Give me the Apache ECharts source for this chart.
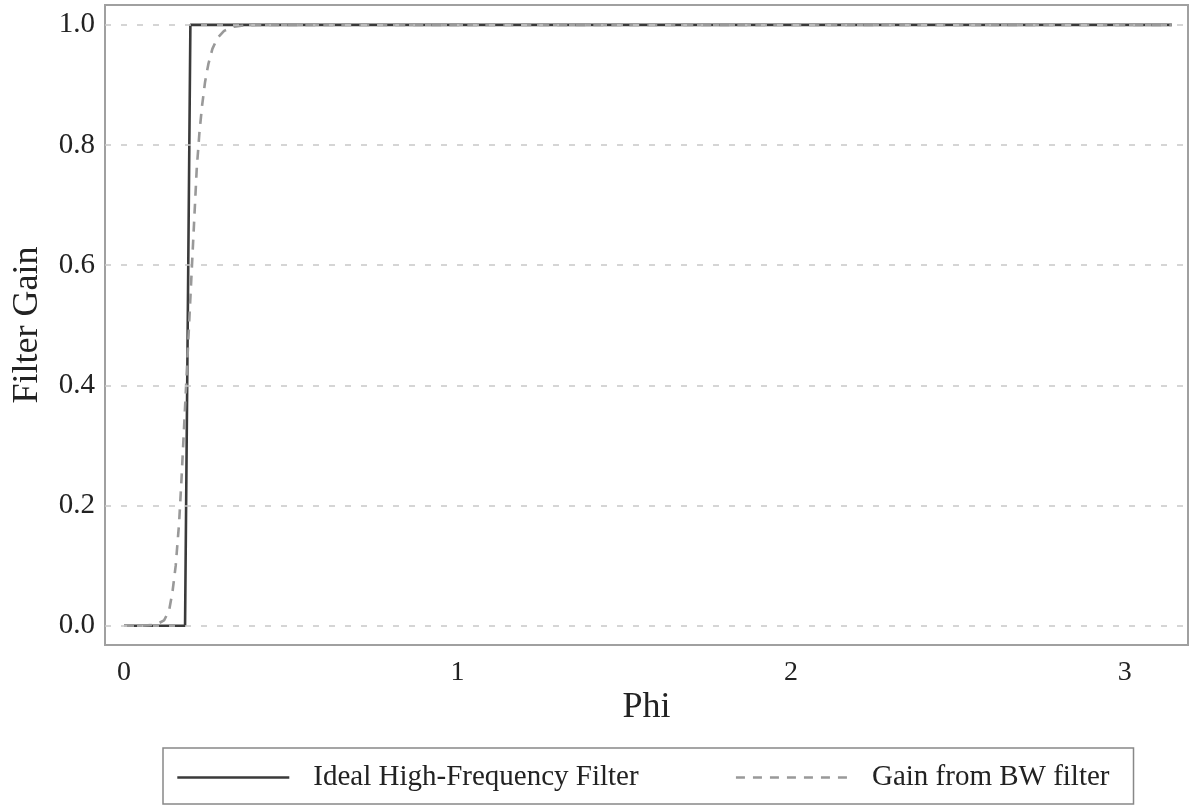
<!DOCTYPE html>
<html>
<head>
<meta charset="utf-8">
<script src="https://cdn.jsdelivr.net/npm/echarts@6/dist/echarts.min.js"></script>
<style>
html,body{margin:0;padding:0;background:#fff;}
#chart{width:1190px;height:805px;}
</style>
</head>
<body>
<div id="chart"></div>
<script>
// Ideal high-frequency filter (step)
const phiIdeal = [0, 0.183, 0.199, 3.1416];
const gainIdeal = [0, 0, 1, 1];

// Gain from BW filter
const phiBW = [0, 0.05, 0.08, 0.10, 0.12, 0.135, 0.145, 0.155, 0.165, 0.172, 0.180, 0.188, 0.195, 0.202, 0.210, 0.218, 0.226, 0.234, 0.243, 0.253, 0.265, 0.28, 0.30, 0.33, 0.36, 0.40, 0.6, 1.0, 1.5, 2.0, 2.5, 3.0, 3.1416];
const gainBW = [0, 0, 0.001, 0.003, 0.009, 0.025, 0.055, 0.10, 0.17, 0.24, 0.33, 0.42, 0.50, 0.58, 0.67, 0.76, 0.82, 0.865, 0.905, 0.935, 0.96, 0.978, 0.99, 0.997, 0.999, 1.0, 1.0, 1.0, 1.0, 1.0, 1.0, 1.0, 1.0];

const xTicks = [0, 1, 2, 3];
const yTicks = [0, 0.2, 0.4, 0.6, 0.8, 1.0];

const names = ['Ideal High-Frequency Filter', 'Gain from BW filter'];
const FONT = 'Liberation Serif';

const chart = echarts.init(document.getElementById('chart'), null, {renderer: 'canvas'});
chart.setOption({
  backgroundColor: '#fff',
  animation: false,
  textStyle: {fontFamily: FONT},
  grid: {left: 105, right: 2, top: 5, bottom: 160, containLabel: false, outerBoundsMode: 'none',
         show: true, borderColor: '#a0a0a0', borderWidth: 2, backgroundColor: 'transparent'},
  xAxis: {
    type: 'value', min: -0.057, max: 3.19,
    name: 'Phi', nameLocation: 'middle', nameGap: 45, nameMoveOverlap: false,
    nameTextStyle: {fontFamily: FONT, fontSize: 36, color: '#222'},
    axisLine: {show: false}, axisTick: {show: false}, splitLine: {show: false},
    axisLabel: {customValues: xTicks, fontFamily: FONT, fontSize: 28, color: '#222', margin: 14, formatter: v => String(v)}
  },
  yAxis: {
    type: 'value', min: -0.032, max: 1.033,
    name: 'Filter Gain', nameLocation: 'middle', nameGap: 59, nameRotate: 90, nameMoveOverlap: false,
    nameTextStyle: {fontFamily: FONT, fontSize: 36, color: '#222'},
    axisLine: {show: false}, axisTick: {show: false}, splitLine: {show: false},
    axisLabel: {customValues: yTicks, fontFamily: FONT, fontSize: 29, color: '#222', margin: 10, formatter: v => v.toFixed(1)}
  },
  legend: {
    data: [
      {name: names[0], itemStyle: {opacity: 0}, lineStyle: {color: '#3a3a3a', width: 2.6, type: 'solid'}},
      {name: names[1], itemStyle: {opacity: 0}, lineStyle: {color: '#999', width: 2.6, type: [9, 8]}}
    ],
    left: 163, top: 748,
    padding: [15, 24, 12, 13],
    itemWidth: 112, itemHeight: 28, itemGap: 96,
    borderColor: '#888', borderWidth: 1.5,
    textStyle: {fontFamily: FONT, fontSize: 29, color: '#222', padding: [0, 0, 0, 19]}
  },
  series: [
    {
      name: 'grid', type: 'line', data: [], z: 1, silent: true,
      markLine: {
        silent: true, symbol: 'none', animation: false,
        label: {show: false},
        lineStyle: {type: [6, 10], color: '#c8c8c8', width: 1.5},
        data: yTicks.map(v => ({yAxis: v}))
      }
    },
    {
      name: names[0], type: 'line', z: 3,
      data: phiIdeal.map((p, i) => [p, gainIdeal[i]]),
      showSymbol: false, symbol: 'none',
      lineStyle: {color: '#3a3a3a', width: 2.6, type: 'solid'},
      itemStyle: {color: '#3a3a3a'}
    },
    {
      name: names[1], type: 'line', z: 4,
      data: phiBW.map((p, i) => [p, gainBW[i]]),
      showSymbol: false, symbol: 'none',
      lineStyle: {color: '#999', width: 2.6, type: [10, 8]},
      itemStyle: {color: '#999'}
    }
  ]
});
</script>
</body>
</html>
